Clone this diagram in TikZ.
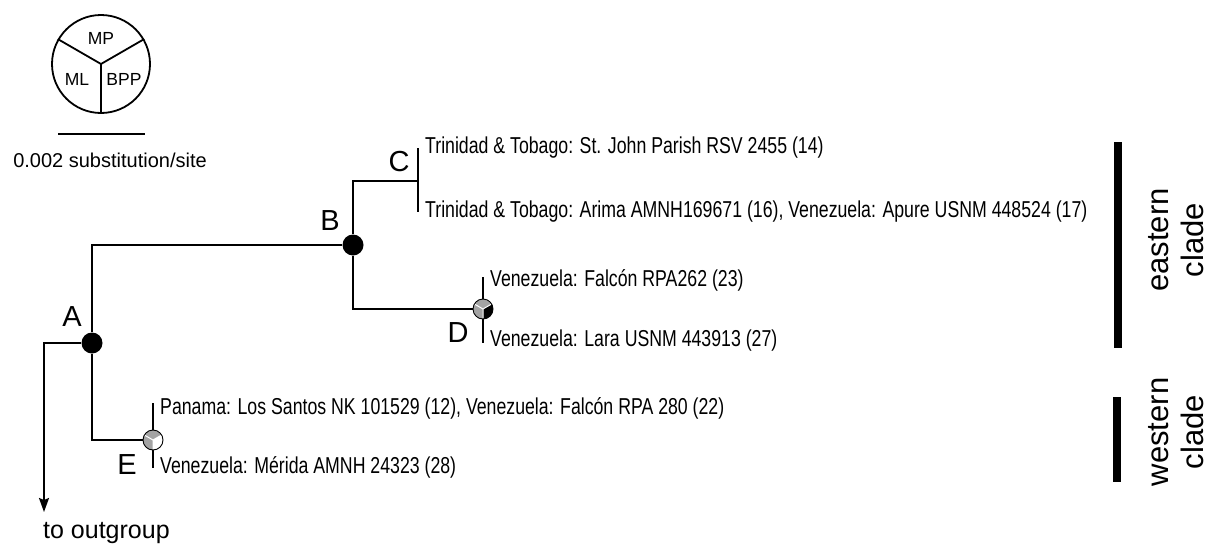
\documentclass[tikz,border=0pt]{standalone}
\usepackage{fontspec}
\setmainfont{Liberation Sans}
\newfontfamily\leaffont[FakeStretch=0.77]{Liberation Sans}
\usepackage{tikz}
\usetikzlibrary{arrows.meta, positioning}
\usepackage{xcolor}
\definecolor{piegray}{gray}{0.64}
\tikzstyle{arrow} = [-{Stealth[length=14pt, width=10pt, inset=2pt]}, line width=1.8pt]

% three-part support pie: node, MP, ML, BPP
\newcommand{\supportpie}[4]{%
  \fill[#2] (#1.center) -- ++(30:10pt) arc[start angle=30, end angle=150, radius=10pt] -- cycle;
  \fill[#3] (#1.center) -- ++(150:10pt) arc[start angle=150, end angle=270, radius=10pt] -- cycle;
  \fill[#4] (#1.center) -- ++(270:10pt) arc[start angle=270, end angle=390, radius=10pt] -- cycle;
  \draw[white, line width=1pt] (#1.center) -- ++(30:9.5pt) (#1.center) -- ++(150:9.5pt) (#1.center) -- ++(270:9.5pt);
  \draw[line width=0.9pt] (#1.center) circle[radius=10pt];
}

\begin{document}
\begin{tikzpicture}[
    x=1pt, y=1pt,
    branch/.style={line width=1.8pt},
    dot/.style={circle, fill=black, minimum size=21pt, inner sep=0pt},
    pie/.style={circle, minimum size=20pt, inner sep=0pt},
    leaf/.style={anchor=west, inner sep=1pt, font=\leaffont\fontsize{23}{27}\selectfont},
    nodelbl/.style={inner sep=0pt, font=\fontsize{29}{33}\selectfont},
    legendlbl/.style={font=\fontsize{17.5}{20}\selectfont},
    cladebar/.style={line width=8pt},
    cladelbl/.style={rotate=90, align=center, inner sep=0pt, font=\fontsize{31}{35}\selectfont}
]
    \useasboundingbox (0,0) rectangle (1209,-546);

    % Legend: support pie and scale
    \node[draw, circle, minimum size=98pt, inner sep=0pt, line width=1.8pt] (legend) at (101,-64) {};
    \draw[branch] (legend.center) -- (legend.150);
    \draw[branch] (legend.center) -- (legend.30);
    \draw[branch] (legend.center) -- (legend.270);
    \node[legendlbl] (mp) at (101,-38) {MP};
    \node[legendlbl] (ml) at (77,-79) {ML};
    \node[legendlbl] (bpp) at (124,-79) {BPP};

    \coordinate (sbL) at (58,-134);
    \coordinate (sbR) at (145,-134);
    \draw[branch] (sbL) -- (sbR);
    \node[font=\fontsize{20}{24}\selectfont] (scale) at (110,-160) {0.002 substitution/site};

    % Internal nodes
    \node[dot] (A) at (92,-343) {};
    \node[dot] (B) at (353,-245) {};
    \coordinate (C) at (418,-181);
    \node[pie] (D) at (483,-309) {};
    \node[pie] (E) at (153,-440) {};

    % Tips
    \coordinate (cTop) at (418,-148);
    \coordinate (cBot) at (418,-212);
    \coordinate (dTop) at (483,-277);
    \coordinate (dBot) at (483,-343);
    \coordinate (eTop) at (153,-403);
    \coordinate (eBot) at (153,-468);
    \coordinate (og) at (44,-343);
    \coordinate (ogEnd) at (44,-512);

    % Branches
    \draw[branch] (B) -| (A) |- (E);
    \draw[branch] (C) -| (B) |- (D);
    \draw[branch] (cTop) -- (cBot);
    \draw[branch] (dTop) -- (dBot);
    \draw[branch] (eTop) -- (eBot);
    \draw[arrow] (A) -- (og) -- (ogEnd);

    \supportpie{D}{piegray}{piegray}{black}
    \supportpie{E}{piegray}{piegray}{white}

    % Node labels
    \node[nodelbl] (labA) at (72,-317) {A};
    \node[nodelbl] (labB) at (330,-221) {B};
    \node[nodelbl] (labC) at (399,-162) {C};
    \node[nodelbl] (labD) at (458,-333) {D};
    \node[nodelbl] (labE) at (127,-465) {E};

    % Tip labels
    \node[leaf, right=6pt of cTop] (t14) {Trinidad \& Tobago: St. John Parish RSV 2455 (14)};
    \node[leaf, right=6pt of cBot] (t16) {Trinidad \& Tobago: Arima AMNH169671 (16), Venezuela: Apure USNM 448524 (17)};
    \node[leaf, right=6pt of dTop, yshift=-3pt] (t23) {Venezuela: Falcón RPA262 (23)};
    \node[leaf, right=6pt of dBot, yshift=2pt] (t27) {Venezuela: Lara USNM 443913 (27)};
    \node[leaf, right=6pt of eTop, yshift=-5pt] (t12) {Panama: Los Santos NK 101529 (12), Venezuela: Falcón RPA 280 (22)};
    \node[leaf, right=6pt of eBot, yshift=1pt] (t28) {Venezuela: Mérida AMNH 24323 (28)};
    \node[anchor=west, inner sep=0pt, font=\fontsize{25}{29}\selectfont] (ogLbl) at (43,-533) {to outgroup};

    % Clades
    \coordinate (eastTop) at (1118,-142);
    \coordinate (eastBot) at (1118,-348);
    \coordinate (westTop) at (1117,-397);
    \coordinate (westBot) at (1117,-482);
    \draw[cladebar] (eastTop) -- (eastBot);
    \draw[cladebar] (westTop) -- (westBot);
    \node[cladelbl] (eastLbl) at (1176,-240) {eastern\\clade};
    \node[cladelbl] (westLbl) at (1176,-432) {western\\clade};

\end{tikzpicture}
\end{document}
